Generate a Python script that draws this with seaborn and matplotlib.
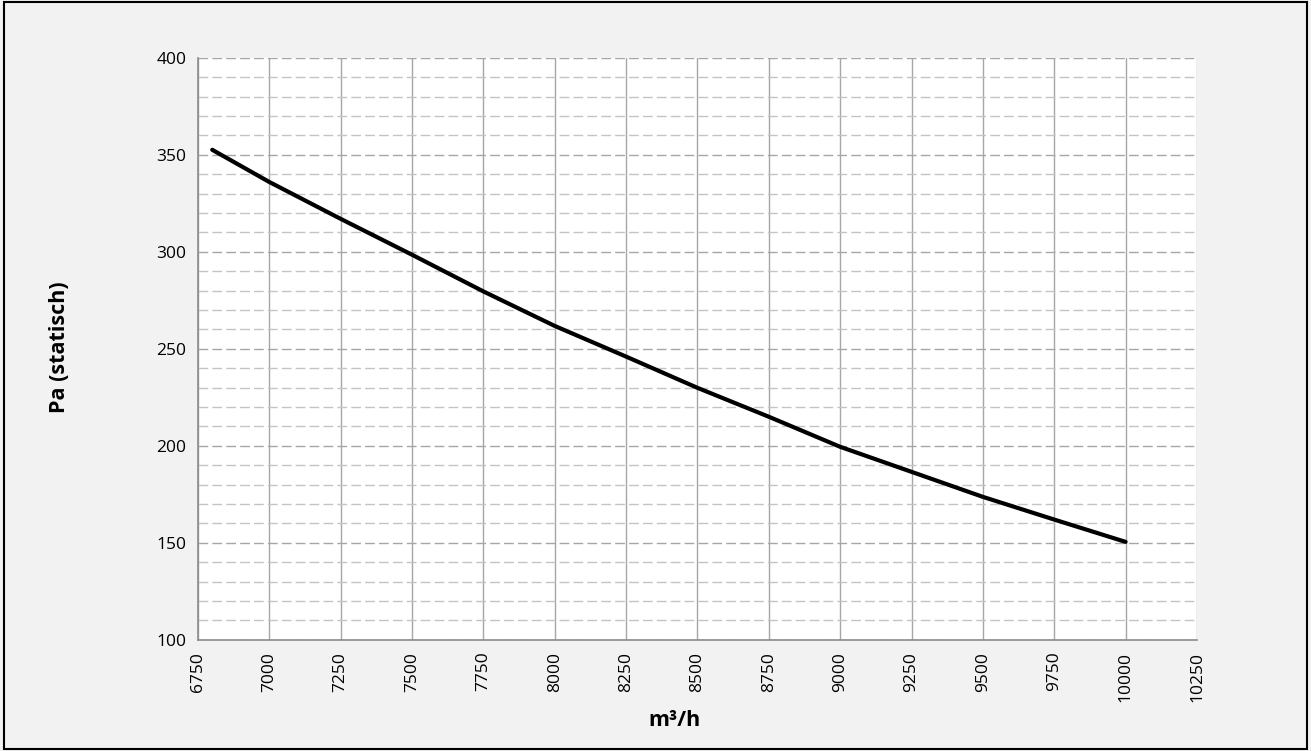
import numpy as np
import pandas as pd
import matplotlib
matplotlib.use("Agg")
import matplotlib.pyplot as plt
import seaborn as sns
from matplotlib.patches import Rectangle
from matplotlib.ticker import MultipleLocator

# Data
flow = [6800, 7000, 7250, 7500, 7750, 8000, 8250, 8500, 8750, 9000, 9250, 9500, 9750, 10000]
pressure = [352.6, 336, 317, 298.5, 279.6, 261.8, 246, 229.9, 215, 199.5, 186.6, 173.7, 162, 150.5]

df = pd.DataFrame({"flow": flow, "pressure": pressure})

sns.set_style("white")
plt.rcParams["font.family"] = ["Open Sans", "DejaVu Sans"]

fig = plt.figure(figsize=(13.11, 7.51), dpi=100, facecolor="#f2f2f2")
ax = fig.add_axes([0.151, 0.148, 0.762, 0.775])
ax.set_facecolor("white")

sns.lineplot(data=df, x="flow", y="pressure", color="black", linewidth=3, ax=ax)

ax.set_xlim(6750, 10250)
ax.set_ylim(100, 400)
ax.xaxis.set_major_locator(MultipleLocator(250))
ax.yaxis.set_major_locator(MultipleLocator(50))
ax.yaxis.set_minor_locator(MultipleLocator(10))

# Gridlines: solid verticals, dashed horizontals
ax.grid(which="major", axis="x", color="#a6a6a6", linestyle="-", linewidth=1)
ax.grid(which="major", axis="y", color="#a6a6a6", linestyle=(0, (7, 3)), linewidth=1)
ax.grid(which="minor", axis="y", color="#c4c4c4", linestyle=(0, (7, 3)), linewidth=1)
ax.set_axisbelow(True)

for s in ["top", "right"]:
    ax.spines[s].set_visible(False)
for s in ["left", "bottom"]:
    ax.spines[s].set_color("#8c8c8c")
    ax.spines[s].set_linewidth(1.2)

ax.tick_params(axis="both", which="major", direction="out", length=5, width=1,
               color="#8c8c8c", labelsize=12.5, labelcolor="black")
ax.tick_params(axis="y", which="minor", length=0)
ax.tick_params(axis="x", labelrotation=90)

ax.set_xlabel("m³/h", fontsize=15.5, fontweight="bold", color="black")
ax.set_ylabel("Pa (statisch)", fontsize=15.5, fontweight="bold", color="black")
ax.xaxis.set_label_coords(0.4775, -0.120)
ax.yaxis.set_label_coords(-0.128, 0.503)

fig.patches.append(Rectangle((0.003, 0.003), 0.994, 0.994, transform=fig.transFigure,
                             fill=False, edgecolor="black", linewidth=1.5))

fig.savefig("out.png", dpi=100, facecolor=fig.get_facecolor())
